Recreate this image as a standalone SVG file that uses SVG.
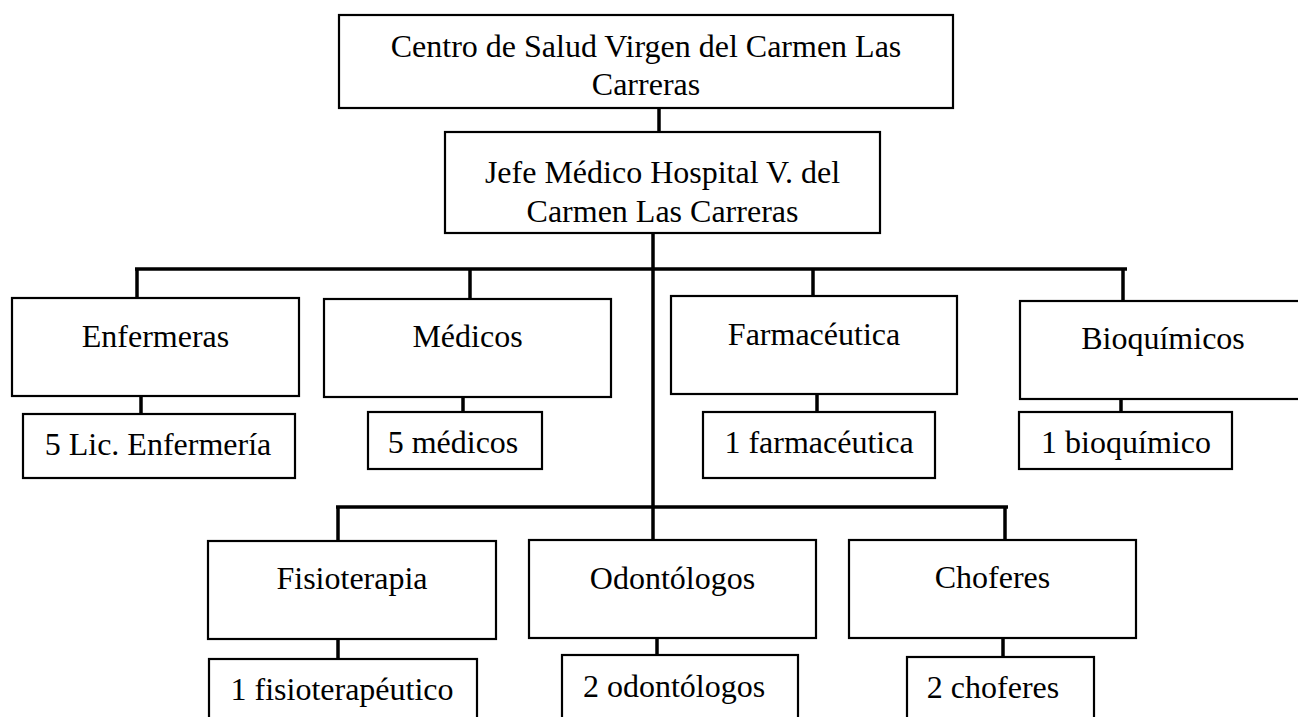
<svg xmlns="http://www.w3.org/2000/svg" width="1298" height="717" viewBox="0 0 1298 717">
<style>
.box{fill:#fff;stroke:#000;stroke-width:2.2}
.t{font-family:'Liberation Serif','Times New Roman','DejaVu Serif',serif;font-size:32px;fill:#000;text-anchor:middle}
.c{stroke:#000;stroke-width:3.5;fill:none}
</style>
<rect width="1298" height="717" fill="#fff"/>
<g id="connectors">
<line class="c" x1="659" y1="108" x2="659" y2="132"/>
<line class="c" x1="653" y1="233" x2="653" y2="540"/>
<line class="c" x1="135" y1="269" x2="1127" y2="269"/>
<line class="c" x1="137" y1="269" x2="137" y2="298"/>
<line class="c" x1="470" y1="269" x2="470" y2="299"/>
<line class="c" x1="813" y1="269" x2="813" y2="296"/>
<line class="c" x1="1123" y1="269" x2="1123" y2="301"/>
<line class="c" x1="141" y1="396" x2="141" y2="414"/>
<line class="c" x1="463" y1="397" x2="463" y2="412"/>
<line class="c" x1="817" y1="394" x2="817" y2="412"/>
<line class="c" x1="1121" y1="399" x2="1121" y2="412"/>
<line class="c" x1="336" y1="507" x2="1008" y2="507"/>
<line class="c" x1="338" y1="507" x2="338" y2="541"/>
<line class="c" x1="1005" y1="507" x2="1005" y2="540"/>
<line class="c" x1="338" y1="639" x2="338" y2="659"/>
<line class="c" x1="657" y1="638" x2="657" y2="655"/>
<line class="c" x1="1003" y1="638" x2="1003" y2="657"/>
</g>
<g font-family="Liberation Serif, serif">
<g id="centro">
<rect class="box" x="339" y="15" width="614" height="93"/>
<text class="t" x="646" y="57">Centro de Salud Virgen del Carmen Las</text>
<text class="t" x="646" y="95">Carreras</text>
</g>
<g id="jefe">
<rect class="box" x="445" y="132" width="435" height="101"/>
<text class="t" x="662.5" y="183">Jefe Médico Hospital V. del</text>
<text class="t" x="662.5" y="222">Carmen Las Carreras</text>
</g>
<g id="enfermeras">
<rect class="box" x="12" y="298" width="287" height="98"/>
<text class="t" x="155.5" y="347">Enfermeras</text>
</g>
<g id="lic-enfermeria">
<rect class="box" x="23" y="414" width="272" height="64"/>
<text class="t" x="158" y="455">5 Lic. Enfermería</text>
</g>
<g id="medicos">
<rect class="box" x="324" y="299" width="287" height="98"/>
<text class="t" x="467.5" y="347">Médicos</text>
</g>
<g id="cinco-medicos">
<rect class="box" x="368" y="412" width="174" height="57"/>
<text class="t" x="453" y="453">5 médicos</text>
</g>
<g id="farmaceutica">
<rect class="box" x="671" y="296" width="286" height="98"/>
<text class="t" x="814" y="345">Farmacéutica</text>
</g>
<g id="una-farmaceutica">
<rect class="box" x="703" y="412" width="232" height="66"/>
<text class="t" x="819" y="453">1 farmacéutica</text>
</g>
<g id="bioquimicos">
<rect class="box" x="1020" y="301" width="290" height="98"/>
<text class="t" x="1163" y="349">Bioquímicos</text>
</g>
<g id="un-bioquimico">
<rect class="box" x="1019" y="412" width="213" height="57"/>
<text class="t" x="1126" y="453">1 bioquímico</text>
</g>
<g id="fisioterapia">
<rect class="box" x="208" y="541" width="288" height="98"/>
<text class="t" x="352" y="589">Fisioterapia</text>
</g>
<g id="un-fisioterapeutico">
<rect class="box" x="209" y="659" width="268" height="64"/>
<text class="t" x="342" y="700">1 fisioterapéutico</text>
</g>
<g id="odontologos">
<rect class="box" x="529" y="540" width="287" height="98"/>
<text class="t" x="672.5" y="589">Odontólogos</text>
</g>
<g id="dos-odontologos">
<rect class="box" x="562" y="655" width="236" height="68"/>
<text class="t" x="674" y="697">2 odontólogos</text>
</g>
<g id="choferes">
<rect class="box" x="849" y="540" width="287" height="98"/>
<text class="t" x="992.5" y="588">Choferes</text>
</g>
<g id="dos-choferes">
<rect class="box" x="907" y="657" width="187" height="66"/>
<text class="t" x="993" y="698">2 choferes</text>
</g>
</g>
</svg>
